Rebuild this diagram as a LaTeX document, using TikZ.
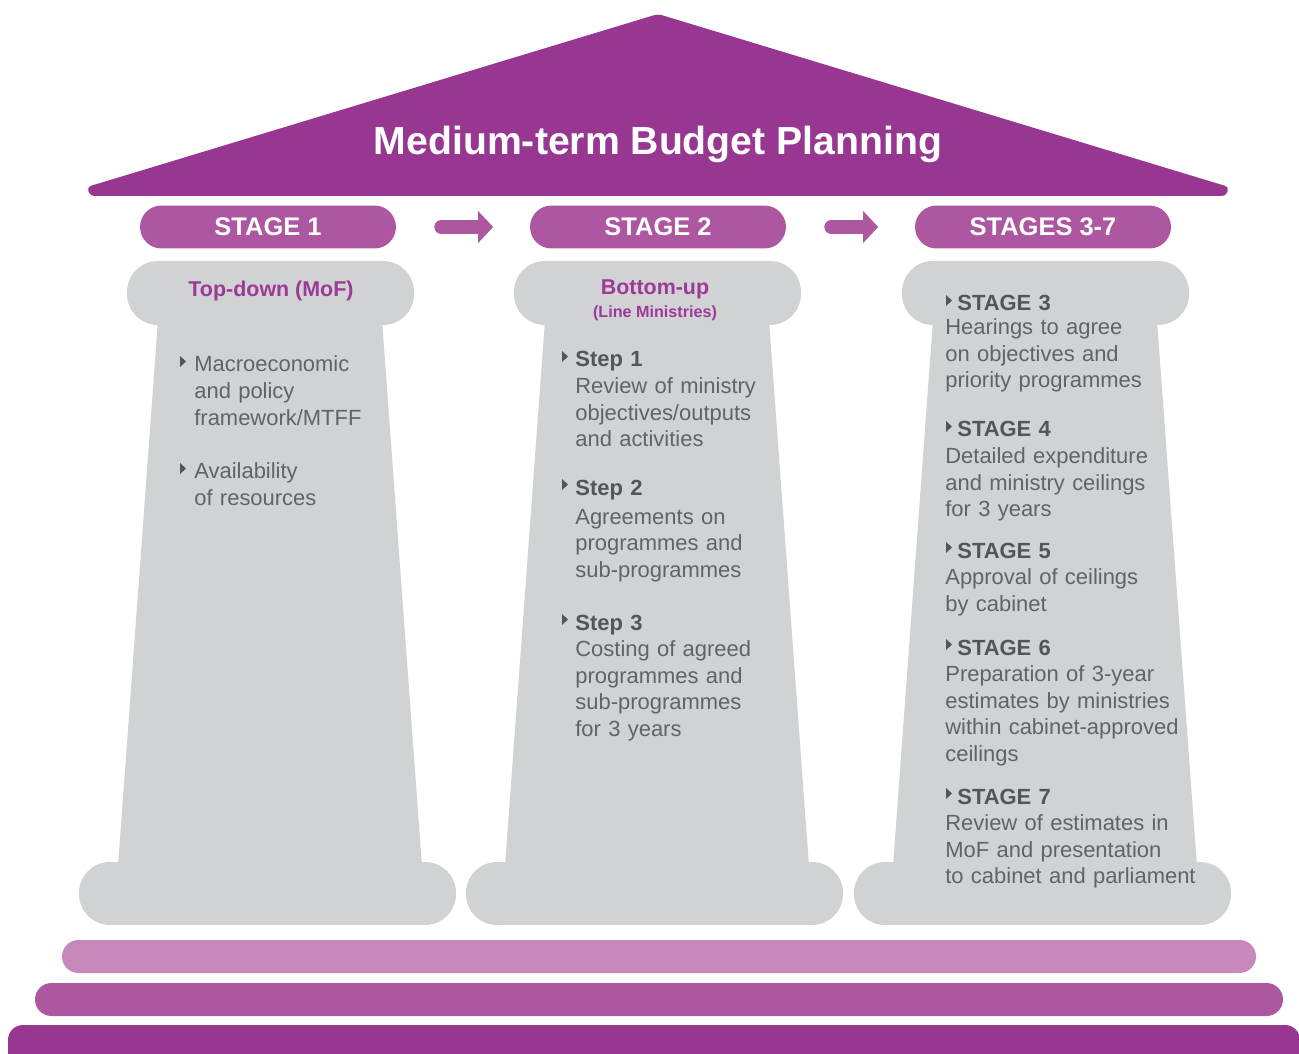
\documentclass[tikz,border=0pt]{standalone}
\usepackage{fontspec}
\setmainfont{Liberation Sans}
\usepackage{xcolor}
\usetikzlibrary{shapes.misc, arrows.meta, positioning}

\definecolor{roofpurple}{RGB}{151,55,145}
\definecolor{pillpurple}{RGB}{173,87,160}
\definecolor{bandlight}{RGB}{199,136,188}
\definecolor{pillargray}{RGB}{209,210,212}
\definecolor{textgray}{RGB}{98,99,102}
\definecolor{headgray}{RGB}{84,85,88}
\definecolor{headpurple}{RGB}{155,58,151}

\newcommand{\itemhead}[1]{{\color{headgray}\bfseries #1}}

\begin{document}
\begin{tikzpicture}[x=0.02cm, y=-0.02cm,
    stagepill/.style={rounded rectangle, fill=pillpurple, text=white,
        font=\fontsize{14.5}{17}\selectfont\bfseries,
        minimum width=5.12cm, minimum height=0.86cm, inner sep=0pt},
    stagearrow/.style={draw=pillpurple, line width=0.28cm, line cap=round,
        -{Triangle[length=0.3cm,width=0.62cm]}, shorten <=0.9cm, shorten >=0.73cm},
    pillar/.style={fill=pillargray},
    colhead/.style={text=headpurple, font=\fontsize{12.2}{14}\selectfont\bfseries,
        inner sep=0pt, anchor=base},
    item/.style={text=textgray, font=\fontsize{12.5}{15.1}\selectfont,
        text width=5.6cm, align=left, inner sep=0pt, anchor=base west},
    tribullet/.pic={\fill[headgray] (0,0) -- (0,-11) -- (6,-5.5) -- cycle;}]
    \useasboundingbox (0,0) rectangle (1299,1054);

    % Roof
    \fill[roofpurple, rounded corners=0.08cm] (658,14) -- (1229,187) -- (1226,196)
        -- (90,196) -- (87,187) -- cycle;
    \node[text=white, font=\fontsize{22.3}{26}\selectfont\bfseries, anchor=base,
        inner sep=0pt] (title) at (658,155) {Medium-term Budget Planning};

    % Stages
    \node[stagepill] (s1) at (268,227) {STAGE 1};
    \node[stagepill] (s2) at (658,227) {STAGE 2};
    \node[stagepill] (s3) at (1043,227) {STAGES 3-7};
    \draw[stagearrow] (s1.east) -- (s2.west);
    \draw[stagearrow] (s2.east) -- (s3.west);

    % Pillars
    \foreach \cx in {270,657,1045} {
        \fill[pillar, rounded corners=0.62cm] (\cx-143,261) rectangle (\cx+144,325);
        \fill[pillar] (\cx-112,320) -- (\cx+112,320) -- (\cx+152,866) -- (\cx-152,866) -- cycle;
        \fill[pillar, rounded corners=0.62cm] (\cx-191,862) rectangle (\cx+186,925);
    }

    % Steps
    \fill[bandlight, rounded corners=0.33cm] (62,940) rectangle (1256,973);
    \fill[pillpurple, rounded corners=0.33cm] (35,983) rectangle (1283,1016);
    \fill[roofpurple, rounded corners=0.3cm] (8,1025) rectangle (1300,1080);

    % Column heads
    \node[colhead] (topdown) at (271,297) {Top-down (MoF)};
    \node[colhead] (bottomup) at (655,295) {Bottom-up};
    \node[colhead, font=\fontsize{9.2}{11}\selectfont\bfseries] (lineMin) at (655,317) {(Line Ministries)};

    % Stage 1 column
    \node[item] (macro) at (194,372) {Macroeconomic\\and policy\\framework/MTFF};
    \node[item] (avail) at (194,479) {Availability\\of resources};

    % Stage 2 column
    \node[item] (step1) at (575,367) {\itemhead{Step 1}\\Review of ministry\\objectives/outputs\\and activities};
    \node[item] (step2) at (575,495) {\itemhead{Step 2}\\[0.05cm]Agreements on\\programmes and\\sub-programmes};
    \node[item] (step3) at (575,630) {\itemhead{Step 3}\\Costing of agreed\\programmes and\\sub-programmes\\for 3 years};

    % Stages 3-7 column
    \node[item] (st3) at (945,311) {\hspace*{0.24cm}\itemhead{STAGE 3}\\[-0.06cm]Hearings to agree\\on objectives and\\priority programmes};
    \node[item] (st4) at (945,437) {\hspace*{0.24cm}\itemhead{STAGE 4}\\Detailed expenditure\\and ministry ceilings\\for 3 years};
    \node[item] (st5) at (945,558) {\hspace*{0.24cm}\itemhead{STAGE 5}\\Approval of ceilings\\by cabinet};
    \node[item] (st6) at (945,655) {\hspace*{0.24cm}\itemhead{STAGE 6}\\Preparation of 3-year\\estimates by ministries\\within cabinet-approved\\ceilings};
    \node[item] (st7) at (945,804) {\hspace*{0.24cm}\itemhead{STAGE 7}\\Review of estimates in\\MoF and presentation\\to cabinet and parliament};

    % Bullets
    \foreach \n/\dx in {macro/-14, avail/-14, step1/-13, step2/-13, step3/-13,
                        st3/1, st4/1, st5/1, st6/1, st7/1}
        \pic at ([shift={(\dx,-5)}]\n.base west) {tribullet};
\end{tikzpicture}
\end{document}
